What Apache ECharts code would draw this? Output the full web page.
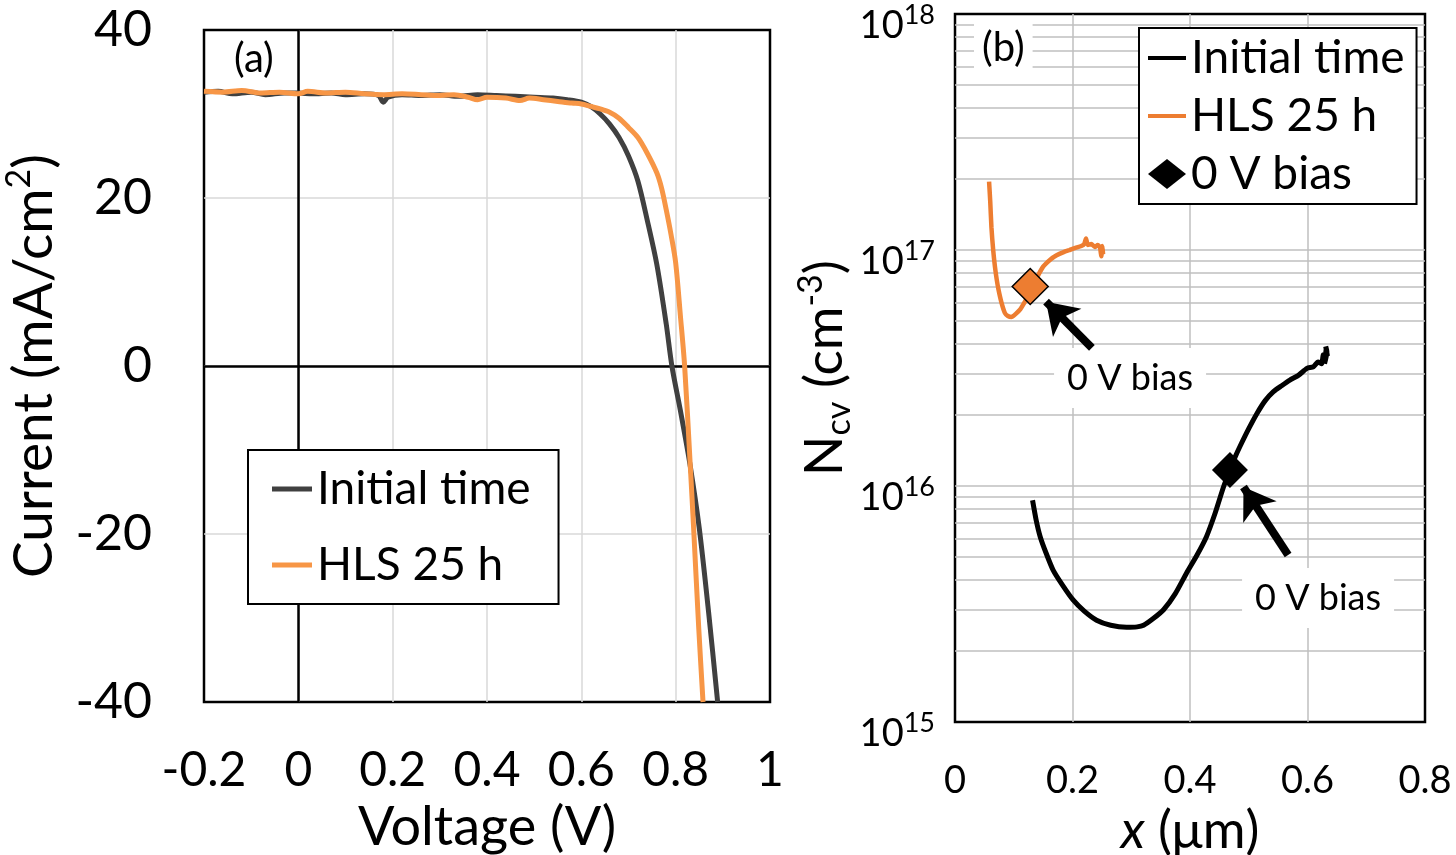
<!DOCTYPE html>
<html>
<head>
<meta charset="utf-8">
<script src="https://cdn.jsdelivr.net/npm/echarts@6/dist/echarts.min.js"></script>
<style>
  html, body { margin: 0; padding: 0; background: #fff; }
  #chart { width: 1456px; height: 855px; }
</style>
</head>
<body>
<div id="chart"></div>
<script>
// (a) J-V curves
const voltageTicks = [-0.2, 0, 0.2, 0.4, 0.6, 0.8, 1];
const currentTicks = [-40, -20, 0, 20, 40];

const initialVoltage = [-0.2, -0.17, -0.14, -0.1, -0.07, -0.03, 0, 0.03, 0.07, 0.1, 0.14, 0.17, 0.18, 0.19, 0.22, 0.26, 0.3, 0.34, 0.38, 0.42, 0.46, 0.5, 0.54, 0.57, 0.6, 0.62, 0.64, 0.66, 0.68, 0.70, 0.72, 0.74, 0.76, 0.78, 0.792, 0.81, 0.83, 0.85, 0.87, 0.889];
const initialCurrent = [32.6, 32.7, 32.4, 32.6, 32.3, 32.5, 32.5, 32.4, 32.5, 32.3, 32.4, 32.2, 31.4, 32.0, 32.3, 32.2, 32.3, 32.1, 32.3, 32.2, 32.1, 32.0, 31.9, 31.7, 31.4, 30.9, 30.0, 28.8, 27.2, 25.0, 22.0, 17.3, 12.1, 5.0, 0, -5.3, -11.6, -19.3, -29.4, -40];

const hlsVoltage = [-0.2, -0.16, -0.12, -0.08, -0.04, 0, 0.02, 0.06, 0.1, 0.14, 0.18, 0.22, 0.26, 0.3, 0.33, 0.36, 0.38, 0.4, 0.44, 0.47, 0.49, 0.52, 0.55, 0.58, 0.6, 0.62, 0.64, 0.66, 0.68, 0.70, 0.72, 0.74, 0.76, 0.77, 0.78, 0.79, 0.80, 0.81, 0.819, 0.831, 0.838, 0.849, 0.858];
const hlsCurrent = [32.7, 32.6, 32.8, 32.5, 32.6, 32.4, 32.7, 32.5, 32.6, 32.4, 32.3, 32.4, 32.3, 32.2, 32.3, 32.0, 31.7, 32.0, 31.9, 31.6, 31.9, 31.7, 31.5, 31.3, 31.2, 30.9, 30.6, 30.2, 29.5, 28.4, 27.2, 25.3, 23.0, 21.2, 18.6, 15.7, 12.3, 6.0, 0, -11.9, -19.2, -31.3, -40];

// (b) Ncv profiles
const depthTicks = [0, 0.2, 0.4, 0.6, 0.8];
const ncvDecades = [1e15, 1e16, 1e17, 1e18];
const ncvMinorGrid = [2e15, 3e15, 4e15, 5e15, 6e15, 7e15, 8e15, 9e15, 2e16, 3e16, 4e16, 5e16, 6e16, 7e16, 8e16, 9e16, 2e17, 3e17, 4e17, 5e17, 6e17, 7e17, 8e17, 9e17];

const ncvInitialDepth = [0.132, 0.138, 0.145, 0.155, 0.167, 0.183, 0.201, 0.220, 0.241, 0.265, 0.292, 0.310, 0.321, 0.338, 0.355, 0.375, 0.394, 0.412, 0.428, 0.443, 0.457, 0.468, 0.477, 0.485, 0.500, 0.514, 0.528, 0.542, 0.556, 0.570, 0.585, 0.599, 0.610, 0.618, 0.624, 0.627, 0.630, 0.632, 0.629, 0.633, 0.631, 0.634];
const ncvInitialValue = [8.7e15, 7.2e15, 6.1e15, 5.2e15, 4.4e15, 3.8e15, 3.29e15, 2.95e15, 2.7e15, 2.57e15, 2.52e15, 2.53e15, 2.57e15, 2.75e15, 2.99e15, 3.5e15, 4.27e15, 5.1e15, 6.1e15, 7.7e15, 9.9e15, 1.17e16, 1.33e16, 1.47e16, 1.75e16, 2.03e16, 2.3e16, 2.51e16, 2.66e16, 2.81e16, 2.95e16, 3.15e16, 3.2e16, 3.35e16, 3.3e16, 3.6e16, 3.47e16, 3.85e16, 3.3e16, 3.7e16, 3.9e16, 3.55e16];

const ncvHlsDepth = [0.058, 0.060, 0.062, 0.065, 0.068, 0.071, 0.074, 0.079, 0.085, 0.090, 0.096, 0.103, 0.111, 0.120, 0.128, 0.138, 0.150, 0.162, 0.173, 0.185, 0.195, 0.205, 0.215, 0.220, 0.223, 0.226, 0.232, 0.238, 0.243, 0.247, 0.249, 0.251, 0.252, 0.250];
const ncvHlsValue = [1.95e17, 1.6e17, 1.25e17, 1.0e17, 8.5e16, 7.5e16, 6.8e16, 6.0e16, 5.4e16, 5.25e16, 5.2e16, 5.35e16, 5.6e16, 6.1e16, 6.6e16, 7.5e16, 8.5e16, 9.1e16, 9.5e16, 9.8e16, 1.0e17, 1.02e17, 1.04e17, 1.06e17, 1.12e17, 1.05e17, 1.06e17, 1.03e17, 1.05e17, 1.02e17, 9.4e16, 1.04e17, 9.6e16, 1.0e17];

// 0 V bias points: HLS first, initial second
const biasDepth = [0.128, 0.468];
const biasValue = [7.0e16, 1.17e16];
// arrows (tail -> tip) and their labels, in data units
const arrowTailDepth = [0.233, 0.567];
const arrowTailValue = [3.85e16, 5.1e15];
const arrowTipDepth = [0.155, 0.491];
const arrowTipValue = [6.04e16, 9.9e15];
const biasLabelDepth = [0.298, 0.618];
const biasLabelValue = [2.87e16, 3.35e15];

const zip = (a, b) => a.map((v, i) => [v, b[i]]);
const font = 'Lato';
const fmt = v => String(+v.toFixed(1));
// horizontal gridlines of panel (b): inner decades plus 2..9 of each decade
const ncvGridLines = ncvDecades.slice(1, -1).concat(ncvMinorGrid);

const chart = echarts.init(document.getElementById('chart'));

const option = {
  animation: false,
  textStyle: { fontFamily: font, color: '#000' },
  grid: [
    { left: 204, top: 30, width: 566, height: 672, outerBoundsMode: 'none', show: true, borderColor: '#000', borderWidth: 2.5, backgroundColor: '#fff' },
    { left: 955, top: 14, width: 470, height: 708, outerBoundsMode: 'none', show: true, borderColor: '#000', borderWidth: 2.5, backgroundColor: '#fff' }
  ],
  xAxis: [
    {
      gridIndex: 0, type: 'value',
      min: voltageTicks[0], max: voltageTicks[voltageTicks.length - 1], interval: 0.2,
      axisLine: { show: false }, axisTick: { show: false },
      splitLine: { show: true, showMinLine: false, showMaxLine: false, lineStyle: { color: '#d9d9d9', width: 1.5 } },
      axisLabel: { formatter: fmt, fontSize: 48, color: '#000', margin: 45, fontFamily: font },
      name: 'Voltage (V)', nameLocation: 'middle', nameGap: 99,
      nameTextStyle: { fontSize: 54, color: '#000', fontFamily: font }
    },
    {
      gridIndex: 1, type: 'value',
      min: depthTicks[0], max: depthTicks[depthTicks.length - 1], interval: 0.2,
      axisLine: { show: false }, axisTick: { show: false },
      splitLine: { show: true, showMinLine: false, showMaxLine: false, lineStyle: { color: '#bfbfbf', width: 1.5 } },
      axisLabel: { formatter: fmt, fontSize: 38, color: '#000', margin: 40, fontFamily: font },
      name: '{i|x}{a| (\u03bcm)}', nameLocation: 'middle', nameGap: 80,
      nameTextStyle: {
        rich: {
          i: { fontSize: 52, fontStyle: 'italic', fontFamily: font, color: '#000' },
          a: { fontSize: 52, fontFamily: font, color: '#000' }
        }
      }
    }
  ],
  yAxis: [
    {
      gridIndex: 0, type: 'value',
      min: currentTicks[0], max: currentTicks[currentTicks.length - 1], interval: 20,
      axisLine: { show: false }, axisTick: { show: false },
      splitLine: { show: true, showMinLine: false, showMaxLine: false, lineStyle: { color: '#d9d9d9', width: 1.5 } },
      axisLabel: { fontSize: 50, color: '#000', margin: 52, fontFamily: font },
      name: '{a|Current (mA/cm}{s|2}{a|)}', nameLocation: 'middle', nameGap: 138, nameRotate: 90,
      nameTextStyle: {
        rich: {
          a: { fontSize: 55, lineHeight: 64, fontFamily: font, color: '#000' },
          s: { fontSize: 34, lineHeight: 34, verticalAlign: 'top', fontFamily: font, color: '#000' }
        }
      }
    },
    {
      gridIndex: 1, type: 'log', logBase: 10,
      min: ncvDecades[0], max: ncvDecades[ncvDecades.length - 1],
      axisLine: { show: false }, axisTick: { show: false },
      splitLine: { show: false },
      axisLabel: {
        margin: 20,
        padding: [24, 0, 0, 0],
        formatter: v => '{a|10}{s|' + Math.round(Math.log10(v)) + '}',
        rich: {
          a: { fontSize: 38, lineHeight: 48, fontFamily: font, color: '#000' },
          s: { fontSize: 27, lineHeight: 27, verticalAlign: 'top', fontFamily: font, color: '#000' }
        }
      },
      name: '{a|N}{b|cv}{a| (cm}{c|-3}{a|)}', nameLocation: 'middle', nameGap: 87, nameRotate: 90,
      nameTextStyle: {
        rich: {
          a: { fontSize: 53, lineHeight: 62, fontFamily: font, color: '#000' },
          b: { fontSize: 34, lineHeight: 34, verticalAlign: 'bottom', fontFamily: font, color: '#000' },
          c: { fontSize: 34, lineHeight: 34, verticalAlign: 'top', fontFamily: font, color: '#000' }
        }
      }
    }
  ],
  legend: [
    {
      left: 248, top: 450, orient: 'vertical', z: 8,
      backgroundColor: '#fff', borderColor: '#000', borderWidth: 2,
      padding: [14, 28, 14, 24], itemGap: 26,
      itemWidth: 40, itemHeight: 30, symbolKeepAspect: true,
      textStyle: { fontSize: 46, lineHeight: 50, fontFamily: font, color: '#000' },
      selectedMode: false,
      data: [
        { name: 'Initial time', icon: 'path://M0,0H40V5H0Z', itemStyle: { color: '#404040', borderWidth: 0 } },
        { name: 'HLS 25 h', icon: 'path://M0,0H40V5H0Z', itemStyle: { color: '#F79646', borderWidth: 0 } }
      ]
    },
    {
      left: 1139, top: 28, orient: 'vertical', z: 8,
      backgroundColor: '#fff', borderColor: '#000', borderWidth: 2,
      padding: [5, 12, 5, 9], itemGap: 8,
      itemWidth: 38, itemHeight: 30, symbolKeepAspect: true,
      textStyle: { fontSize: 46, lineHeight: 50, fontFamily: font, color: '#000' },
      selectedMode: false,
      data: [
        { name: 'Initial time', icon: 'path://M0,0H38V4H0Z', itemStyle: { color: '#000', borderWidth: 0 } },
        { name: 'HLS 25 h', icon: 'path://M0,0H38V4H0Z', itemStyle: { color: '#ED7D31', borderWidth: 0 } },
        { name: '0 V bias', icon: 'diamond', itemStyle: { color: '#000', borderWidth: 0, opacity: 1 } }
      ]
    }
  ],
  graphic: [
    {
      type: 'text', left: 234, top: 39, z: 100,
      style: { text: '(a)', fontSize: 40, fontFamily: font, fill: '#000' }
    },
    {
      type: 'text', left: 974, top: 20, z: 100,
      style: { text: '(b)', fontSize: 40, fontFamily: font, fill: '#000', backgroundColor: '#fff', padding: [8, 8, 8, 8] }
    }
  ],
  series: [
    {
      // zero axes for panel (a)
      type: 'line', name: 'axes', xAxisIndex: 0, yAxisIndex: 0, data: [], z: 1, silent: true,
      markLine: {
        z: 1, silent: true, symbol: ['none', 'none'], label: { show: false },
        lineStyle: { color: '#000', width: 2.5, type: 'solid' },
        data: [{ xAxis: 0 }, { yAxis: 0 }]
      }
    },
    {
      // log gridlines for panel (b)
      type: 'line', name: 'minor', xAxisIndex: 1, yAxisIndex: 1, data: [], z: 1, silent: true,
      markLine: {
        z: 1, silent: true, symbol: ['none', 'none'], label: { show: false },
        lineStyle: { color: '#bfbfbf', width: 1.5, type: 'solid' },
        data: ncvGridLines.map(v => ({ yAxis: v }))
      }
    },
    {
      type: 'line', name: 'Initial time', xAxisIndex: 0, yAxisIndex: 0, z: 3, smooth: 0.3,
      data: zip(initialVoltage, initialCurrent), showSymbol: false, symbol: 'none',
      itemStyle: { color: '#404040' }, lineStyle: { color: '#404040', width: 5 }
    },
    {
      type: 'line', name: 'HLS 25 h', xAxisIndex: 0, yAxisIndex: 0, z: 3, smooth: 0.3,
      data: zip(hlsVoltage, hlsCurrent), showSymbol: false, symbol: 'none',
      itemStyle: { color: '#F79646' }, lineStyle: { color: '#F79646', width: 5 }
    },
    {
      type: 'line', name: 'Initial time', xAxisIndex: 1, yAxisIndex: 1, z: 3, smooth: 0.2,
      data: zip(ncvInitialDepth, ncvInitialValue), showSymbol: false, symbol: 'none',
      itemStyle: { color: '#000' }, lineStyle: { color: '#000', width: 5 }
    },
    {
      type: 'line', name: 'HLS 25 h', xAxisIndex: 1, yAxisIndex: 1, z: 3, smooth: 0.2,
      data: zip(ncvHlsDepth, ncvHlsValue), showSymbol: false, symbol: 'none',
      itemStyle: { color: '#ED7D31' }, lineStyle: { color: '#ED7D31', width: 4.5 }
    },
    {
      // annotation boxes and arrows
      type: 'scatter', name: 'notes', xAxisIndex: 1, yAxisIndex: 1, z: 4, silent: true,
      symbol: 'rect', symbolSize: [152, 60],
      itemStyle: { color: '#fff', opacity: 1 },
      label: { show: true, position: 'inside', formatter: '0 V bias', fontSize: 36, fontFamily: font, color: '#000' },
      data: zip(biasLabelDepth, biasLabelValue),
      markLine: {
        z: 6, silent: true, symbol: ['none', 'arrow'], symbolSize: 30, label: { show: false },
        lineStyle: { color: '#000', width: 8, type: 'solid' },
        data: arrowTipDepth.map((d, i) => [
          { coord: [arrowTailDepth[i], arrowTailValue[i]] },
          { coord: [d, arrowTipValue[i]] }
        ])
      }
    },
    {
      type: 'scatter', name: '0 V bias', xAxisIndex: 1, yAxisIndex: 1, z: 5, silent: true,
      symbol: 'diamond', symbolSize: 36,
      itemStyle: { color: '#000', opacity: 1 },
      data: zip(biasDepth, biasValue).map((p, i) => i === 0
        ? { value: p, itemStyle: { color: '#ED7D31', borderColor: '#000', borderWidth: 1.5, opacity: 1 } }
        : { value: p })
    }
  ]
};

chart.setOption(option);
</script>
</body>
</html>
